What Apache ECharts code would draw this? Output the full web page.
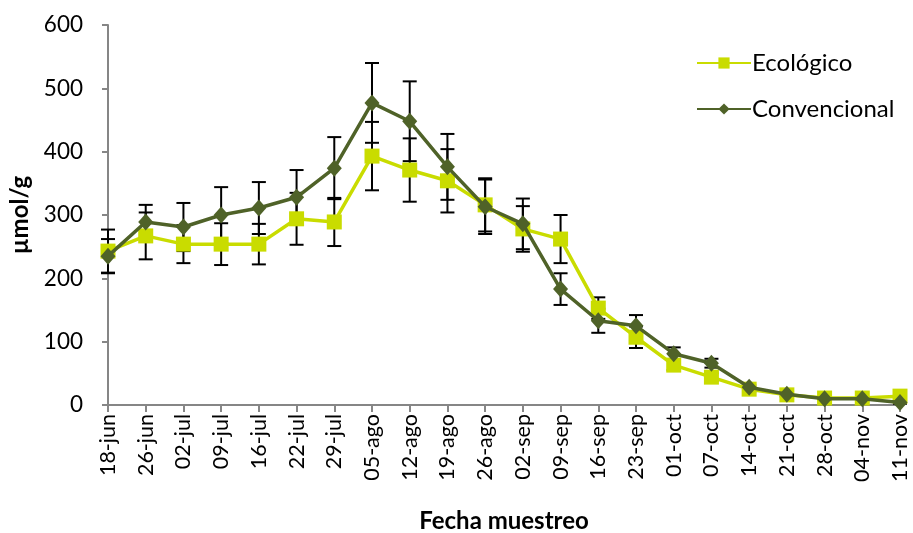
<!DOCTYPE html>
<html>
<head>
<meta charset="utf-8">
<script src="https://cdn.jsdelivr.net/npm/echarts@6/dist/echarts.min.js"></script>
<style>
  html, body { margin: 0; padding: 0; background: #fff; }
  #main { width: 913px; height: 533px; }
</style>
</head>
<body>
<div id="main"></div>
<script>
// fechas de muestreo
var categories = ['18-jun', '26-jun', '02-jul', '09-jul', '16-jul', '22-jul', '29-jul', '05-ago', '12-ago', '19-ago', '26-ago',
  '02-sep', '09-sep', '16-sep', '23-sep', '01-oct', '07-oct', '14-oct', '21-oct', '28-oct', '04-nov', '11-nov'];

var ecologico = [243, 267, 254, 254, 254, 294, 289, 393, 371, 354, 316, 278, 262, 153, 107, 63, 44, 25, 16, 11, 11, 14];
var ecologicoErr = [34, 37, 30, 33, 32, 41, 38, 54, 50, 50, 42, 36, 38, 17, 17, 8, 6, 4, 3, 2, 2, 2];

var convencional = [235, 289, 281, 300, 311, 328, 374, 477, 448, 376, 313, 286, 183, 133, 125, 81, 66, 28, 17, 10, 10, 4];
var convencionalErr = [27, 27, 38, 44, 41, 43, 49, 63, 63, 52, 43, 40, 25, 19, 17, 10, 7, 4, 3, 2, 2, 2];

var yTicks = [0, 100, 200, 300, 400, 500, 600];

var FONT = 'Lato';
var myChart = echarts.init(document.getElementById('main'));

function errData(vals, errs) {
  return vals.map(function (v, i) { return [i, v - errs[i], v + errs[i]]; });
}

// barras de error dibujadas con las escalas del eje
function renderErr(params, api) {
  var x = api.value(0);
  var lo = api.coord([x, api.value(1)]);
  var hi = api.coord([x, api.value(2)]);
  var w = 7;
  var st = { stroke: '#000', lineWidth: 2 };
  return {
    type: 'group',
    children: [
      { type: 'line', shape: { x1: lo[0], y1: lo[1], x2: hi[0], y2: hi[1] }, style: st },
      { type: 'line', shape: { x1: lo[0] - w, y1: lo[1], x2: lo[0] + w, y2: lo[1] }, style: st },
      { type: 'line', shape: { x1: hi[0] - w, y1: hi[1], x2: hi[0] + w, y2: hi[1] }, style: st }
    ]
  };
}

myChart.setOption({
  animation: false,
  grid: { left: 108, right: 13, top: 25, bottom: 128, outerBoundsMode: 'none' },
  legend: {
    data: ['Ecológico', 'Convencional'],
    orient: 'vertical',
    left: 691,
    top: 46,
    itemWidth: 54,
    itemHeight: 14,
    itemGap: 22,
    textStyle: { fontFamily: FONT, fontSize: 24, color: '#000', padding: [0, 0, 0, -4] }
  },
  xAxis: {
    type: 'category',
    data: categories,
    boundaryGap: false,
    name: 'Fecha muestreo',
    nameLocation: 'middle',
    nameGap: 104,
    nameTextStyle: { fontFamily: FONT, fontSize: 24, fontWeight: 'bold', color: '#000' },
    axisLine: { lineStyle: { color: '#868686', width: 2 } },
    axisTick: { show: true, length: 7, alignWithLabel: true, lineStyle: { color: '#868686', width: 2 } },
    axisLabel: { rotate: 90, fontFamily: FONT, fontSize: 21.5, color: '#000', margin: 9, interval: 0 },
    splitLine: { show: false }
  },
  yAxis: {
    type: 'value',
    min: 0,
    max: yTicks[yTicks.length - 1],
    interval: 100,
    name: 'µmol/g',
    nameLocation: 'middle',
    nameGap: 76,
    nameTextStyle: { fontFamily: FONT, fontSize: 24, fontWeight: 'bold', color: '#000' },
    axisLine: { show: true, lineStyle: { color: '#868686', width: 2 } },
    axisTick: { show: true, length: 6, lineStyle: { color: '#868686', width: 2 } },
    axisLabel: { fontFamily: FONT, fontSize: 22.5, color: '#000', margin: 25 },
    splitLine: { show: false }
  },
  series: [
    {
      name: 'errEco',
      type: 'custom',
      renderItem: renderErr,
      encode: { x: 0, y: [1, 2] },
      data: errData(ecologico, ecologicoErr),
      z: 1
    },
    {
      name: 'errConv',
      type: 'custom',
      renderItem: renderErr,
      encode: { x: 0, y: [1, 2] },
      data: errData(convencional, convencionalErr),
      z: 1
    },
    {
      name: 'Ecológico',
      type: 'line',
      data: ecologico,
      symbol: 'rect',
      symbolSize: 15,
      lineStyle: { color: '#c9dc00', width: 3.5 },
      itemStyle: { color: '#c9dc00' },
      z: 3
    },
    {
      name: 'Convencional',
      type: 'line',
      data: convencional,
      symbol: 'diamond',
      symbolSize: [15, 17],
      lineStyle: { color: '#4f6228', width: 3.5 },
      itemStyle: { color: '#4f6228' },
      z: 4
    }
  ]
});
</script>
</body>
</html>
